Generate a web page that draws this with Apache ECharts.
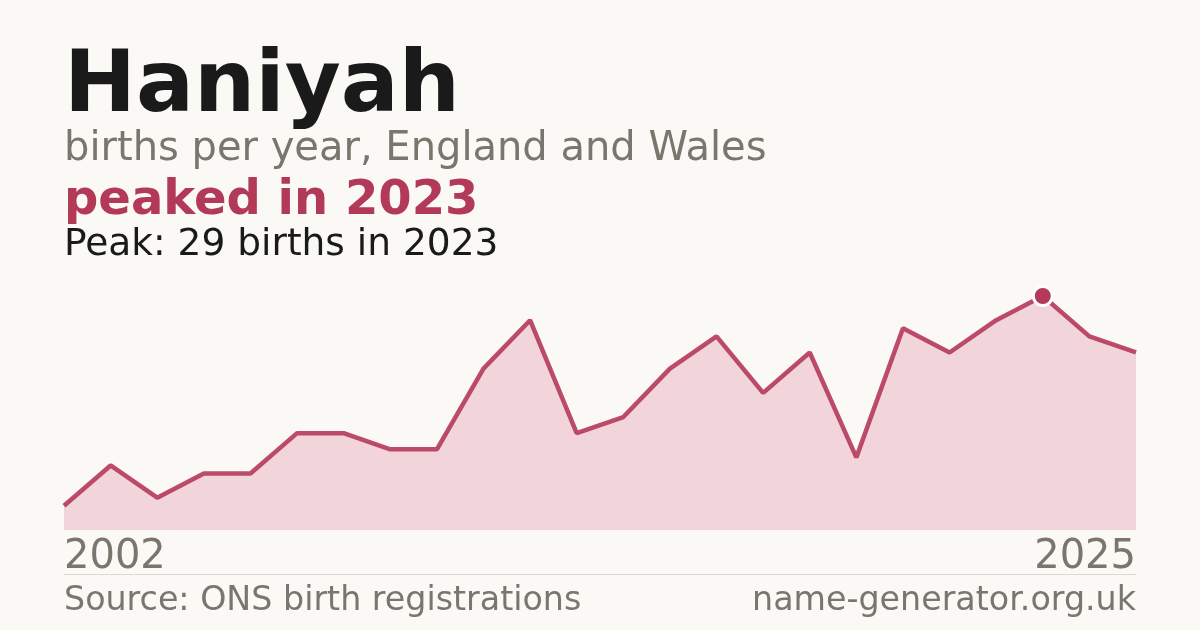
<!DOCTYPE html>
<html>
<head>
<meta charset="utf-8">
<script src="https://cdn.jsdelivr.net/npm/echarts@6/dist/echarts.min.js"></script>
<style>
  html, body { margin: 0; padding: 0; background: #faf9f5; }
  #main { width: 1200px; height: 630px; }
</style>
</head>
<body>
<div id="main"></div>
<script>
// births per year
var years = ['2002','2003','2004','2005','2006','2007','2008','2009','2010','2011','2012','2013',
             '2014','2015','2016','2017','2018','2019','2020','2021','2022','2023','2024','2025'];
var births = [3, 8, 4, 7, 7, 12, 12, 10, 10, 20, 26, 12, 14, 20, 24, 17, 22, 9, 25, 22, 26, 29, 24, 22];
var peakYear = '2023';

var FONT = 'DejaVu Sans';
var lineColor = '#b5395a';

var seriesData = births.map(function (v, i) {
    if (years[i] === peakYear) {
        return {
            value: v,
            symbol: 'circle',
            symbolSize: 19,
            itemStyle: { color: lineColor, borderColor: '#ffffff', borderWidth: 3 }
        };
    }
    return v;
});

var myChart = echarts.init(document.getElementById('main'));

var option = {
    backgroundColor: '#faf9f5',
    animation: false,
    grid: { left: 64, right: 64, top: 296, bottom: 100 },
    xAxis: {
        type: 'category',
        data: years,
        boundaryGap: false,
        axisLine: { show: false },
        axisTick: { show: false },
        axisLabel: {
            interval: function (i) { return i === 0 || i === years.length - 1; },
            alignMinLabel: 'left',
            alignMaxLabel: 'right',
            color: '#7a756d',
            fontFamily: FONT,
            fontSize: 40,
            margin: 8
        }
    },
    yAxis: {
        type: 'value',
        min: 0,
        max: 29,
        show: false,
        splitLine: { show: false }
    },
    graphic: [
        { type: 'text', left: 64, top: 46, style: { text: 'Haniyah', fontFamily: FONT, fontWeight: 'bold', fontSize: 86, fill: '#1a1a1a' } },
        { type: 'text', left: 64, top: 130, style: { text: 'births per year, England and Wales', fontFamily: FONT, fontSize: 40, fill: '#7a756d' } },
        { type: 'text', left: 64, top: 178, style: { text: 'peaked in 2023', fontFamily: FONT, fontWeight: 'bold', fontSize: 48, fill: '#b23a58' } },
        { type: 'text', left: 64, top: 226, style: { text: 'Peak: 29 births in 2023', fontFamily: FONT, fontSize: 37.5, fill: '#1a1a1a' } },
        { type: 'line', shape: { x1: 64, y1: 574.5, x2: 1136, y2: 574.5 }, style: { stroke: '#dcdad4', lineWidth: 1 } },
        { type: 'text', left: 64, top: 585, style: { text: 'Source: ONS birth registrations', fontFamily: FONT, fontSize: 33.3, fill: '#7a756d' } },
        { type: 'text', right: 64, top: 585, style: { text: 'name-generator.org.uk', fontFamily: FONT, fontSize: 33.3, fill: '#7a756d' } }
    ],
    series: [{
        type: 'line',
        data: seriesData,
        symbol: 'none',
        lineStyle: { color: lineColor, width: 4.5, opacity: 0.9 },
        areaStyle: { color: '#f1d5da', opacity: 1 },
        itemStyle: { color: lineColor }
    }]
};

myChart.setOption(option);
</script>
</body>
</html>
